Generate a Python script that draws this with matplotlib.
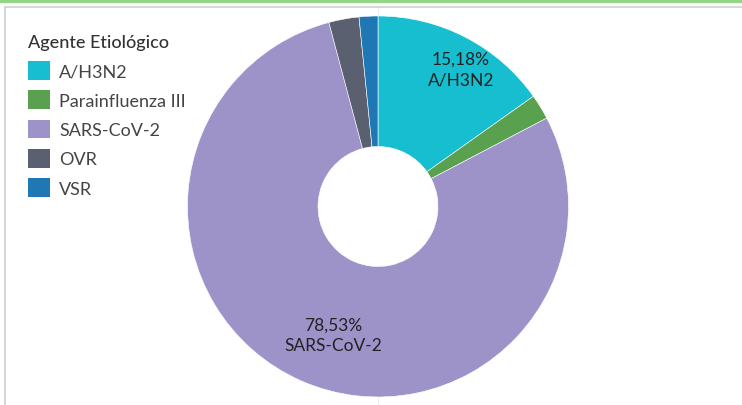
import matplotlib.pyplot as plt
from matplotlib.patches import Patch
from matplotlib.lines import Line2D

agents = ['A/H3N2', 'Parainfluenza III', 'SARS-CoV-2', 'OVR', 'VSR']
shares = [15.18, 2.14, 78.53, 2.56, 1.59]
colors = ['#17becf', '#59a14f', '#9d93c9', '#5a6070', '#1f77b4']
labeled = ['A/H3N2', 'SARS-CoV-2']

W, H = 742, 406
fig = plt.figure(figsize=(W / 100, H / 100), dpi=100)
plt.rcParams['font.family'] = ['Lato', 'DejaVu Sans']

# frame lines of the dashboard tile
fig.add_artist(Line2D([0, 1], [1 - 1.5 / H, 1 - 1.5 / H], color='#95d58a', lw=2.4))
fig.add_artist(Line2D([5 / W, 1], [1 - 7.5 / H, 1 - 7.5 / H], color='#d0d0d0', lw=1.2))
fig.add_artist(Line2D([5 / W, 5 / W], [0, 1 - 7.5 / H], color='#d0d0d0', lw=1.2))
for y0, y1 in [(8, 18), (397, 406)]:
    fig.add_artist(Line2D([378 / W, 378 / W], [1 - y0 / H, 1 - y1 / H], color='#eeeeee', lw=0.8, zorder=0))

cx, cy, r = 378, 207.5, 190.5
ax = fig.add_axes([(cx - r) / W, (H - cy - r) / H, 2 * r / W, 2 * r / H])
wedges, _ = ax.pie(shares, colors=colors, startangle=90, counterclock=False,
                   radius=1, wedgeprops=dict(width=1 - 60 / r, edgecolor='white', linewidth=0.4))
ax.set_xlim(-1, 1)
ax.set_ylim(-1, 1)
ax.axis('off')

label_pos = {'A/H3N2': (461, 70), 'SARS-CoV-2': (333, 336)}
for name in labeled:
    i = agents.index(name)
    px, py = label_pos[name]
    ax.text((px - cx) / r, (cy - py) / r, f'{shares[i]:.2f}%'.replace('.', ',') + '\n' + name,
            ha='center', va='center', fontsize=12.5, color='#222222', linespacing=1.35)

handles = [Patch(facecolor=c, edgecolor='none') for c in colors]
leg = fig.legend(handles, agents, title='Agente Etiológico', loc='upper left',
                 bbox_to_anchor=(12 / W, 1 - 19 / H), frameon=False, fontsize=13,
                 title_fontsize=13, handlelength=1.2, handleheight=1.2,
                 labelspacing=0.6, handletextpad=0.5, alignment='left')
for t in leg.get_texts():
    t.set_color('#444444')
leg.get_title().set_color('#333333')
leg.get_title().set_fontweight('medium')

fig.savefig('out.png', dpi=100)
